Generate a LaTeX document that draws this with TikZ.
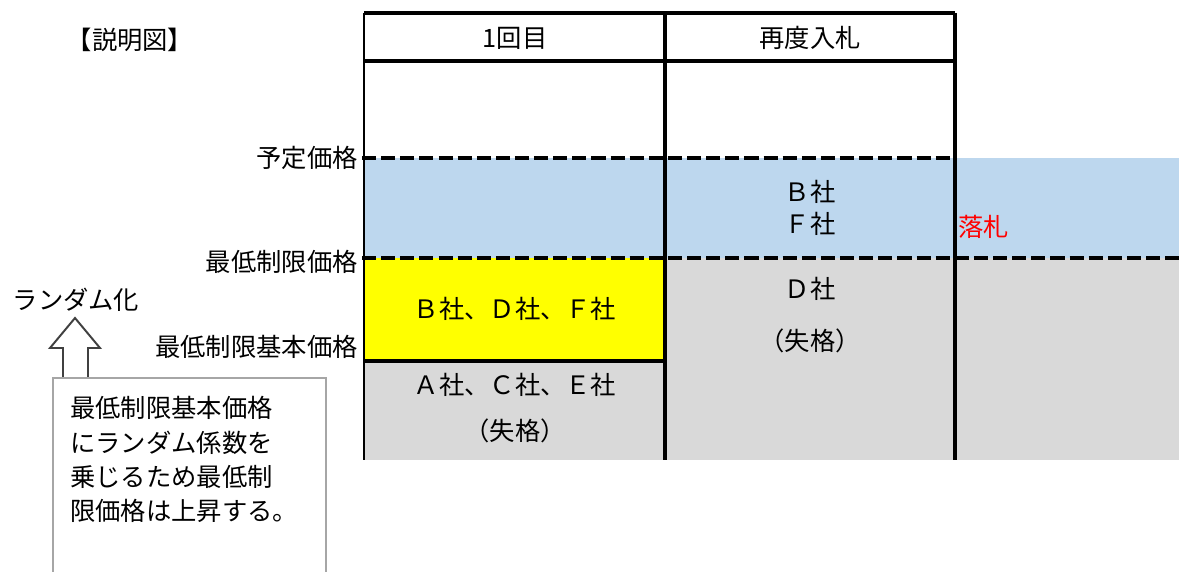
\documentclass[tikz,border=0pt]{standalone}
\usepackage{fontspec}
\setmainfont{Noto Sans CJK JP}
\usepackage{xcolor}
\usetikzlibrary{positioning}
\definecolor{winblue}{HTML}{BDD7EE}
\definecolor{winyellow}{HTML}{FFFF00}
\definecolor{wingray}{HTML}{D9D9D9}
\definecolor{boxgray}{HTML}{A6A6A6}
\tikzset{
    every node/.style={inner sep=0pt, font=\fontsize{18}{22}\selectfont}, % common text size
    dashline/.style={line width=3.2pt, dash pattern=on 10pt off 3.6pt}, % price levels
    thickline/.style={line width=3.4pt}, % column separators
    thinline/.style={line width=1.6pt},
    pricelabel/.style={anchor=east},
    company/.style={align=center},
}

\begin{document}
\begin{tikzpicture}[x=0.025cm, y=-0.025cm]
            \useasboundingbox (0,0) rectangle (1179,572);

            % fills
            \fill[winblue] (364,158) rectangle (1179,258);
            \fill[winyellow] (364,258) rectangle (665,361);
            \fill[wingray] (364,361) rectangle (665,460);
            \fill[wingray] (665,258) rectangle (1179,460);

            % table
            \draw[thinline, line width=2.2pt] (364,13) -- (955,13);
            \draw[thinline, line width=2.2pt] (364,61) -- (955,61);
            \draw[thinline] (364,13) -- (364,460);
            \draw[thinline, line width=2.2pt] (364,361) -- (665,361);
            \draw[dashline] (362,158) -- (955,158);
            \draw[dashline] (362,258) -- (1179,258);
            \draw[thickline] (665,13) -- (665,460);
            \draw[thickline] (955,13) -- (955,460);

            % headers
            \node (h1) at (515,38) {1回目};
            \node (h2) at (810,38) {再度入札};
            \node (title) at (130,40) {【説明図】};

            % price labels
            \node[pricelabel] (yotei) at (358,158) {予定価格};
            \node[pricelabel] (saitei) at (358,262) {最低制限価格};
            \node[pricelabel] (kihon) at (358,347) {最低制限基本価格};

            % companies
            \node[company] (bdf) at (515,309) {Ｂ社、Ｄ社、Ｆ社};
            \node[company] (ace) at (515,385) {Ａ社、Ｃ社、Ｅ社};
            \node[company, below=0.55cm of ace] (ace2) {（失格）};
            \node[company] (b) at (810,192) {Ｂ社};
            \node[company, below=0.2cm of b] (f) {Ｆ社};
            \node[company] (d) at (810,289) {Ｄ社};
            \node[company, below=0.7cm of d] (d2) {（失格）};
            \node[anchor=west, text=red] (win) at (958,227) {落札};

            % randomisation note
            \node (rand) at (76,300) {ランダム化};
            \draw[thinline, line width=1.4pt, draw=black!75, fill=white]
                (63,378) -- (63,348) -- (50,348) -- (75,318) -- (100,348)
                -- (88,348) -- (88,378);
            \draw[thinline, line width=1.2pt, draw=boxgray] (53,575) -- (53,378) -- (326,378) -- (326,575);
            \node[anchor=north west, align=left, font=\fontsize{18}{24.5}\selectfont] (note) at (70,396)
                {最低制限基本価格\\にランダム係数を\\乗じるため最低制\\限価格は上昇する。};
        \end{tikzpicture}
\end{document}
